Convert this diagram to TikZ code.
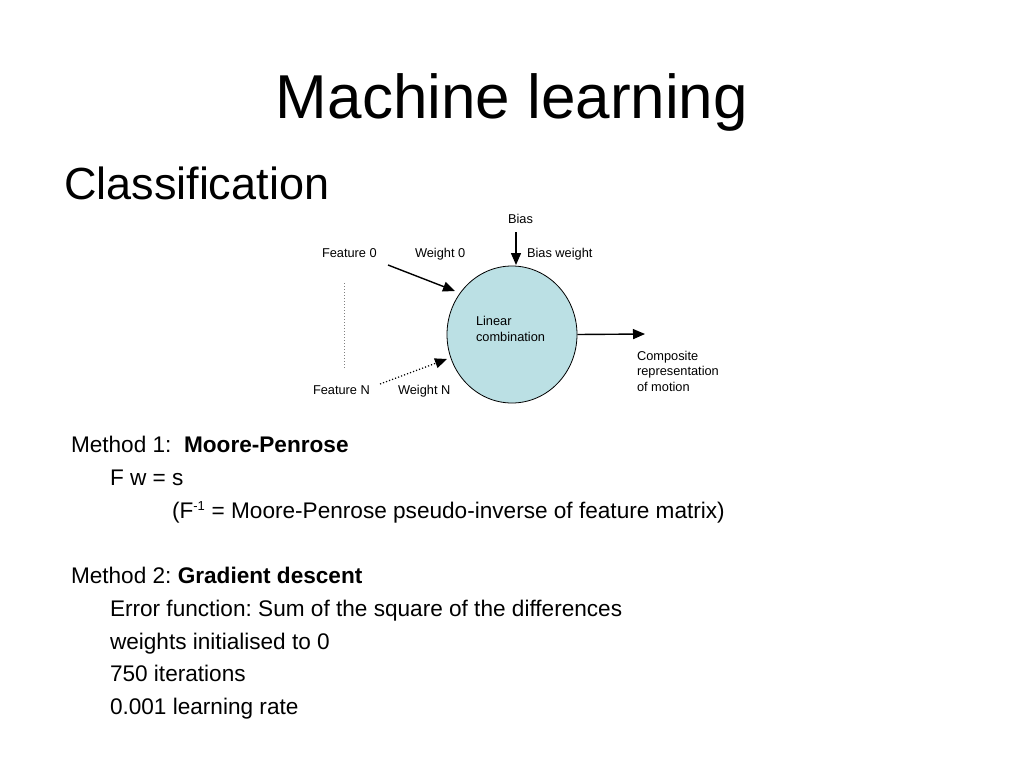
\documentclass[tikz,border=0pt]{standalone}
\usepackage{fontspec}
\setmainfont{Liberation Sans}
\usetikzlibrary{arrows.meta,shapes.geometric}
\definecolor{cellblue}{RGB}{187,224,228}
\frenchspacing
\begin{document}
\begin{tikzpicture}[x=1pt,y=-1pt,
  txt/.style={anchor=base west,inner sep=0pt,outer sep=0pt},
  title/.style={txt,font=\fontsize{62}{70}\selectfont},
  sub/.style={txt,font=\fontsize{45}{52}\selectfont},
  body/.style={txt,font=\fontsize{22.6}{27}\selectfont},
  lab/.style={txt,font=\fontsize{12.8}{15.5}\selectfont},
  arr/.style={draw=black,line width=1.4pt,-{Triangle[length=12pt,width=10pt]}},
  darr/.style={draw=black,line width=1.2pt,dotted,-{Triangle[length=12pt,width=10pt]}},
  dline/.style={draw=gray,line width=1pt,dotted}
]
\useasboundingbox[fill=white] (0,0) rectangle (1024,768);
% titles
\node[title,anchor=base] (t) at (512,118) {Machine learning};
\node[sub] (c) at (64,199) {Classification};
% diagram
\node[ellipse,draw=black,line width=0.8pt,fill=cellblue,minimum width=130pt,minimum height=137pt,inner sep=0pt] (lc) at (512,334.5) {};
\node[lab] (lct) at (476,325) {Linear};
\node[lab] (lct2) at (476,341) {combination};
\node[lab] (bias) at (508,223) {Bias};
\node[lab] (f0) at (322,257) {Feature 0};
\node[lab] (w0) at (415,257) {Weight 0};
\node[lab] (bw) at (527,257) {Bias weight};
\node[lab] (fn) at (313,394) {Feature N};
\node[lab] (wn) at (398,394) {Weight N};
\node[lab] (o1) at (637,360) {Composite};
\node[lab] (o2) at (637,375.5) {representation};
\node[lab] (o3) at (637,391) {of motion};
\coordinate (f0s) at (388,265);
\coordinate (bs) at (516,232);
\coordinate (fns) at (380,384);
\coordinate (oe) at (645,334);
\coordinate (vt) at (344,283);
\coordinate (vb) at (344,368);
\draw[arr] (f0s) -- (455,291);
\draw[arr] (bs) -- (516,265);
\draw[arr] (lc.east) -- (oe);
\draw[darr] (fns) -- (447,359);
\draw[dline] (vt) -- (vb);
% text body
\node[body] (m1) at (71,452) {Method 1:\ \ \textbf{Moore-Penrose}};
\node[body] (m1a) at (110,485) {F w = s};
\node[body] (m1b) at (172,518) {(F\textsuperscript{\fontsize{13}{13}\selectfont -1} = Moore-Penrose pseudo-inverse of feature matrix)};
\node[body] (m2) at (71,583) {Method 2: \textbf{Gradient descent}};
\node[body] (m2a) at (110,616) {Error function: Sum of the square of the differences};
\node[body] (m2b) at (110,649) {weights initialised to 0};
\node[body] (m2c) at (110,681) {750 iterations};
\node[body] (m2d) at (110,714) {0.001 learning rate};
\end{tikzpicture}
\end{document}
